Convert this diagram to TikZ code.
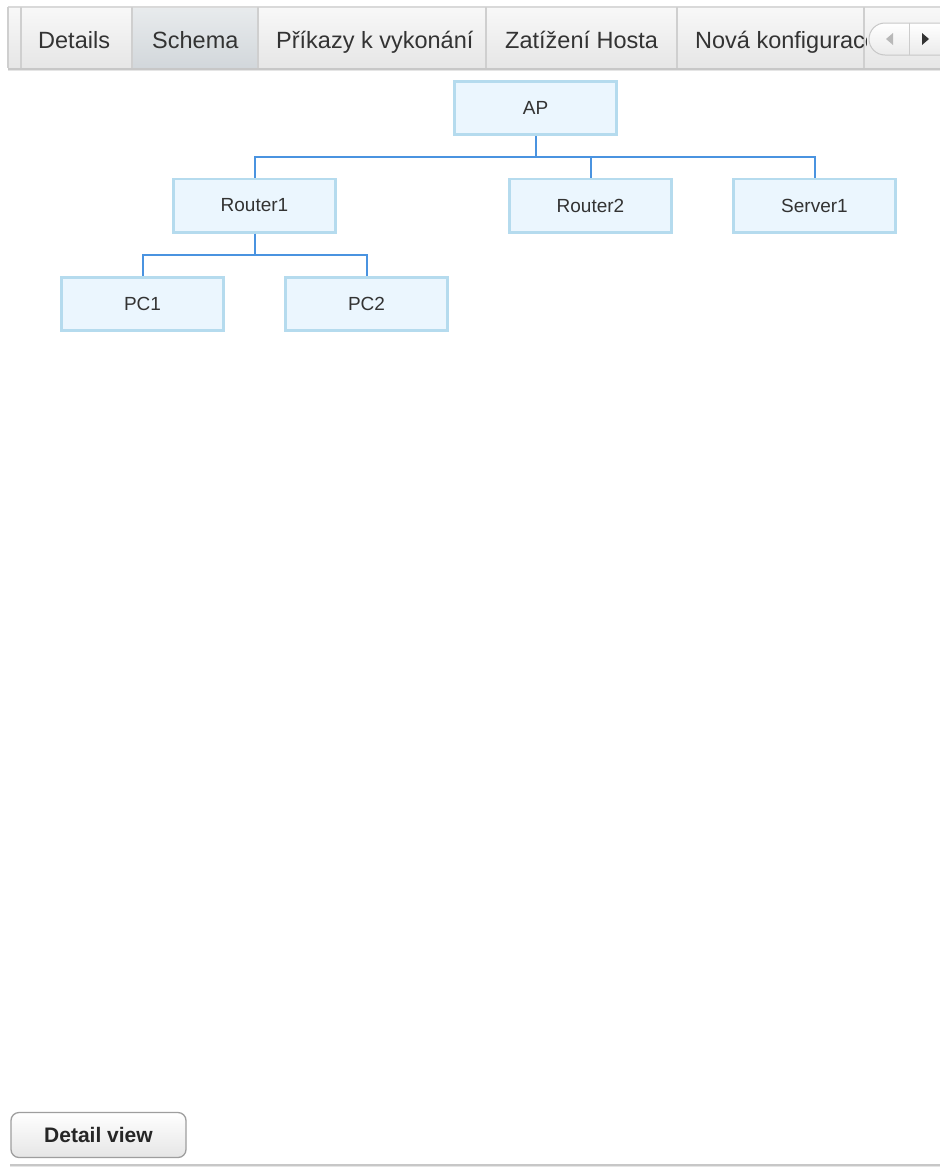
\documentclass[tikz,border=0pt]{standalone}
\usepackage{fontspec}
\setmainfont{Liberation Sans}
\definecolor{boxedge}{HTML}{B5DBEE}
\definecolor{boxfill}{HTML}{EBF6FE}
\definecolor{linkblue}{HTML}{4A93E0}
\definecolor{textgray}{HTML}{333333}
\definecolor{tabline}{HTML}{CFCFCF}
\definecolor{tabtop}{HTML}{F8F8F8}
\definecolor{tabbottom}{HTML}{E6E6E6}
\definecolor{seltop}{HTML}{E8EBED}
\definecolor{selbottom}{HTML}{D2D7DB}
\begin{document}
\begin{tikzpicture}[x=1pt,y=-1pt,
  hostbox/.style={draw=boxedge, fill=boxfill, line width=2.6pt, minimum width=162.4pt,
    minimum height=53.4pt, inner sep=0pt, font=\fontsize{19}{22}\selectfont, text=textgray},
  link/.style={draw=linkblue, line width=2pt},
  tabtext/.style={font=\fontsize{23.5}{28}\selectfont, text=textgray, anchor=base west, inner sep=0pt},
  tabsep/.style={draw=tabline, line width=1.2pt}
]
\useasboundingbox (0,0) rectangle (940,1168);
\fill[white] (0,0) rectangle (940,1168);

% tab strip
\shade[top color=tabtop, bottom color=tabbottom] (8,7) rectangle (940,68);
\shade[top color=seltop, bottom color=selbottom] (132,7) rectangle (258,68);
\draw[draw=white!85!black, line width=1.5pt] (8,7) -- (940,7);
\draw[draw=white!78!black, line width=2pt] (8,68.5) -- (940,68.5);
\draw[draw=white!90!black, line width=1pt] (8,70.5) -- (940,70.5);
\foreach \sx in {8,21,132,258,486,677,864}
  \draw[tabsep] (\sx,7) -- (\sx,68);

\node[tabtext] (t1) at (38,48) {Details};
\node[tabtext] (t2) at (152,48) {Schema};
\node[tabtext] (t3) at (276,48) {Příkazy k vykonání};
\node[tabtext] (t4) at (505,48) {Zatížení Hosta};
\begin{scope}
  \clip (680,7) rectangle (866,68);
  \node[tabtext] (t5) at (695,48) {Nová konfigurace};
\end{scope}

% scroll buttons
\begin{scope}
  \clip (866,7) rectangle (940,68);
  \shade[top color=white, bottom color=white!92!black, draw=white!78!black, line width=1pt,
    rounded corners=16pt] (869,23) rectangle (956,55);
  \draw[draw=white!80!black, line width=1pt] (909,23) -- (909,55);
  \fill[white!72!black] (886,39) -- (893,33) -- (893,45) -- cycle;
  \fill[black!80] (929,39) -- (922,33) -- (922,45) -- cycle;
\end{scope}

% host tree
\node[hostbox] (ap) at (535.5,108) {AP};
\node[hostbox] (r1) at (254.5,205.5) {Router1};
\node[hostbox] (r2) at (590.5,205.5) {Router2};
\node[hostbox] (s1) at (814.5,205.5) {Server1};
\node[hostbox] (pc1) at (142.5,304) {PC1};
\node[hostbox] (pc2) at (366.5,304) {PC2};

\draw[link] (ap.south) -- ++(0,21) -| (r1.north);
\draw[link] (ap.south) -- ++(0,21) -| (r2.north);
\draw[link] (ap.south) -- ++(0,21) -| (s1.north);
\draw[link] (r1.south) -- ++(0,21) -| (pc1.north);
\draw[link] (r1.south) -- ++(0,21) -| (pc2.north);

% bottom button
\node[draw=white!62!black, line width=1.3pt, rounded corners=8pt, top color=white,
  bottom color=white!90!black, minimum width=175pt, minimum height=45pt, inner sep=0pt,
  font=\bfseries\fontsize{21}{24}\selectfont, text=black!85] (dv) at (98.5,1135) {Detail view};
\draw[draw=white!78!black, line width=2pt] (10,1164.5) -- (940,1164.5);
\draw[draw=white!90!black, line width=1pt] (10,1166.5) -- (940,1166.5);
\end{tikzpicture}
\end{document}
